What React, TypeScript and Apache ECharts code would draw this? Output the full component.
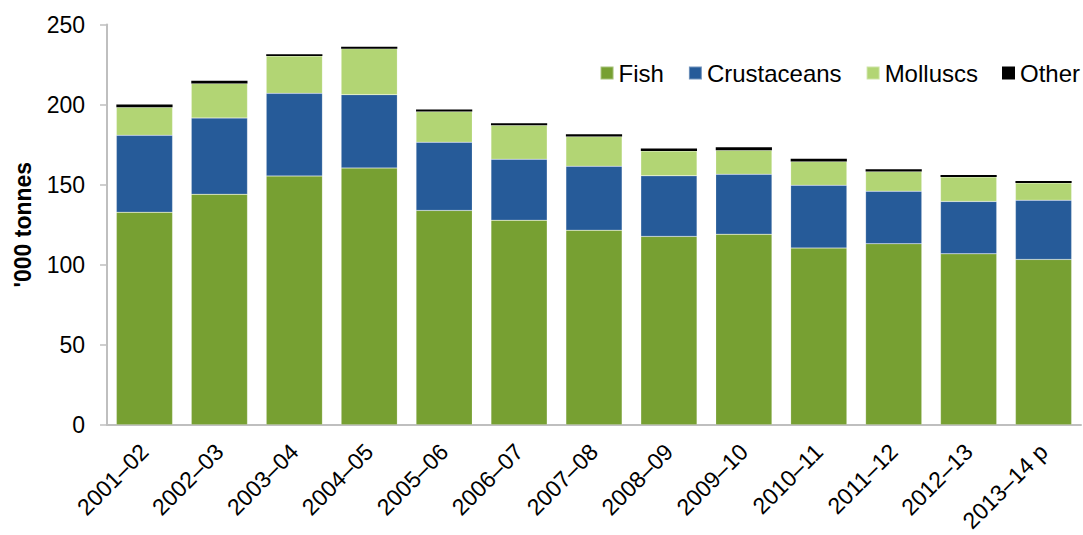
import React, { useEffect, useRef } from "react";
import * as echarts from "echarts";

const categories = [
  "2001–02", "2002–03", "2003–04", "2004–05", "2005–06", "2006–07", "2007–08",
  "2008–09", "2009–10", "2010–11", "2011–12", "2012–13", "2013–14 p",
];
const fish = [132.8, 144.0, 155.4, 160.4, 133.9, 127.8, 121.6, 117.7, 119.1, 110.4, 113.1, 106.8, 103.3];
const crustaceans = [48.0, 47.6, 51.6, 45.8, 42.6, 38.1, 39.9, 37.8, 37.4, 39.2, 32.8, 32.7, 37.0];
const molluscs = [17.5, 21.6, 23.3, 28.7, 19.1, 21.2, 18.5, 15.5, 15.0, 14.8, 12.3, 15.3, 10.8];
const other = [1.8, 1.7, 1.2, 1.2, 1.4, 1.2, 1.4, 1.5, 1.8, 1.7, 1.4, 1.3, 1.2];
const yTicks = { min: 0, max: 250, interval: 50 };

const FONT = "Liberation Sans, Arial, sans-serif";

export default function App() {
  const ref = useRef<HTMLDivElement>(null);
  useEffect(() => {
    if (!ref.current) return;
    const chart = echarts.init(ref.current, undefined, { renderer: "svg" });
    const mk = (name: string, data: number[], color: string, border: boolean) => ({
      name,
      type: "bar",
      stack: "total",
      data,
      barCategoryGap: "25%",
      itemStyle: border
        ? { color, borderColor: "rgba(255,255,255,0.35)", borderWidth: 0.5 }
        : { color },
    });
    chart.setOption({
      animation: false,
      textStyle: { fontFamily: FONT },
      grid: { left: 107, right: 2, top: 24.5, bottom: 109, containLabel: false },
      legend: {
        right: 3,
        top: 61,
        padding: 0,
        itemWidth: 13,
        itemHeight: 13,
        itemGap: 24,
        icon: "rect",
        textStyle: { fontSize: 24, color: "#000", fontFamily: FONT },
        data: ["Fish", "Crustaceans", "Molluscs", "Other"],
      },
      xAxis: {
        type: "category",
        data: categories,
        axisLine: { lineStyle: { color: "#bfbfbf", width: 2 } },
        axisTick: { show: false },
        axisLabel: {
          interval: 0,
          rotate: 45,
          fontSize: 23,
          color: "#000",
          fontFamily: FONT,
          margin: 23,
        },
      },
      yAxis: {
        type: "value",
        min: yTicks.min,
        max: yTicks.max,
        interval: yTicks.interval,
        name: "'000 tonnes",
        nameLocation: "middle",
        nameGap: 73,
        nameTextStyle: { fontSize: 23, fontWeight: "bold", color: "#000", fontFamily: FONT },
        axisLine: { show: true, lineStyle: { color: "#bfbfbf", width: 2 } },
        axisTick: { show: true, length: 7, lineStyle: { color: "#bfbfbf", width: 1.5 } },
        splitLine: { show: false },
        axisLabel: { fontSize: 23, color: "#000", fontFamily: FONT, margin: 22 },
      },
      series: [
        mk("Fish", fish, "#77A032", true),
        mk("Crustaceans", crustaceans, "#265B99", true),
        mk("Molluscs", molluscs, "#B2D574", true),
        mk("Other", other, "#000000", false),
      ],
    });
    return () => chart.dispose();
  }, []);
  return (
    <div
      ref={ref}
      style={{ position: "fixed", left: 0, top: 0, width: 1083, height: 535, background: "#fff" }}
    />
  );
}
